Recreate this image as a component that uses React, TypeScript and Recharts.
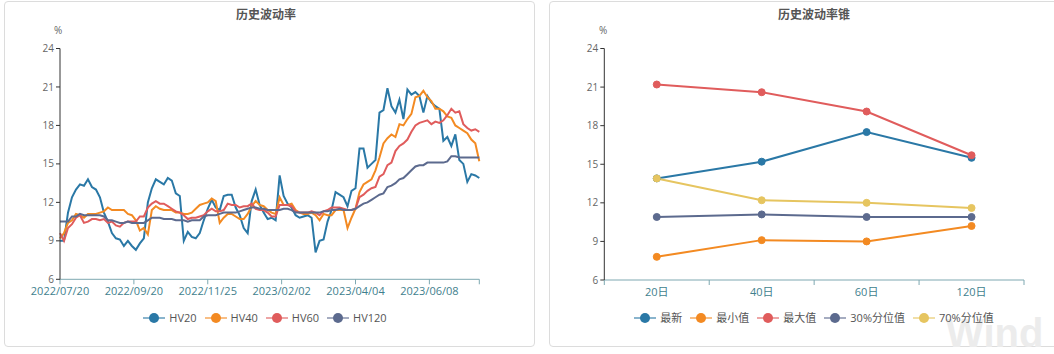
import React from 'react';
import { LineChart, Line, XAxis, YAxis } from 'recharts';

// ---------- Left chart: 历史波动率 ----------
const HV_TICK_POS = [0, 18.5, 37, 55.5, 74, 92.5, 105];
const HV_TICK_LABELS = ['2022/07/20', '2022/09/20', '2022/11/25', '2023/02/02', '2023/04/04', '2023/06/08', ''];
const Y_TICKS = [6, 9, 12, 15, 18, 21, 24];

const HV20 = [9.0,9.0,11.2,12.4,13.0,13.4,13.3,13.8,13.2,13.0, 12.4,11.2,10.5,9.6,9.2,9.1,8.6,9.0,8.6,8.3, 8.8,9.2,12.0,13.1,13.8,13.6,13.4,13.9,13.7,12.7, 12.5,9.0,9.7,9.3,9.2,9.6,10.6,11.5,12.2,11.6, 11.4,12.5,12.6,12.6,11.6,11.0,10.0,9.6,12.1,13.0, 11.8,11.2,10.7,10.8,10.6,14.1,12.5,11.9,11.6,11.0, 10.8,10.9,11.0,10.8,8.1,9.0,9.1,10.5,11.4,12.8, 12.6,12.4,11.7,12.9,13.1,16.2,16.2,14.7,15.0,15.3, 19.0,19.2,20.9,19.5,19.0,20.0,18.5,20.8,20.4,20.6, 20.3,19.0,20.3,19.8,19.5,19.3,16.8,17.1,16.4,17.3, 15.3,15.0,13.6,14.2,14.1,13.9];
const HV40 = [9.2,9.6,10.4,10.6,11.1,11.0,10.8,11.1,11.1,11.1, 11.2,11.3,11.6,11.4,11.4,11.4,11.4,11.1,11.0,10.6, 9.8,10.0,9.5,11.4,11.7,11.5,11.4,11.4,11.4,11.2, 11.2,11.1,11.1,11.2,11.5,11.8,11.9,12.0,12.3,12.1, 10.4,10.8,11.1,11.1,10.9,10.7,10.7,11.1,11.7,12.1, 11.8,11.7,11.4,11.2,11.1,12.4,11.8,11.8,11.9,11.4, 11.2,11.1,11.1,11.2,11.0,10.6,11.1,11.0,11.0,11.4, 11.4,11.4,10.0,10.8,11.5,12.8,13.4,13.6,13.8,14.5, 15.5,16.6,17.0,17.3,17.1,18.1,18.0,18.5,18.9,20.2, 20.3,20.7,20.2,19.9,19.3,19.3,19.1,18.7,18.6,18.0, 17.8,17.6,17.4,16.9,16.6,15.2];
const HV60 = [9.6,9.0,10.0,10.3,10.8,11.0,10.4,10.5,10.7,10.7, 10.6,10.7,10.4,10.5,10.2,10.1,10.4,10.5,10.5,10.5, 10.9,10.9,11.6,11.9,12.1,11.9,11.9,11.7,11.5,11.3, 11.2,11.0,10.7,10.8,10.8,10.9,11.0,11.3,11.5,11.3, 11.3,11.4,11.9,11.8,11.8,11.6,11.7,11.7,11.9,11.5, 11.4,11.4,11.2,10.9,10.9,11.8,11.8,11.8,11.7,11.3, 11.2,11.2,11.2,11.3,11.2,11.0,11.3,11.4,11.6,11.6, 11.6,11.5,11.4,11.4,11.5,12.4,12.6,12.9,13.1,13.2, 14.0,14.2,14.9,15.1,16.0,16.4,16.6,16.9,17.5,18.0, 18.2,18.3,18.4,18.1,18.3,18.2,18.4,18.8,19.3,19.0, 19.1,18.1,17.8,17.6,17.7,17.5];
const HV120 = [10.5,10.5,10.5,10.9,10.9,11.1,11.0,11.0,11.0,11.0, 11.0,10.9,10.6,10.6,10.5,10.4,10.4,10.5,10.4,10.4, 10.4,10.4,10.6,10.8,10.8,10.8,10.7,10.7,10.7,10.6, 10.6,10.6,10.5,10.6,10.6,10.6,10.9,11.0,11.0,11.0, 11.1,11.2,11.2,11.2,11.2,11.3,11.4,11.5,11.6,11.6, 11.5,11.5,11.4,11.4,11.4,11.4,11.5,11.5,11.4,11.2, 11.2,11.2,11.2,11.2,11.2,11.2,11.3,11.3,11.4,11.4, 11.5,11.4,11.4,11.4,11.5,11.7,11.9,12.0,12.2,12.4, 12.6,12.7,13.2,13.3,13.5,13.8,13.9,14.2,14.5,14.8, 14.9,14.9,15.1,15.1,15.1,15.1,15.1,15.2,15.6,15.6, 15.5,15.5,15.5,15.5,15.5,15.5];

// ---------- Right chart: 历史波动率锥 ----------
const CONE_CATEGORIES = ['20日', '40日', '60日', '120日'];
const CONE_LATEST = [13.9, 15.2, 17.5, 15.5];
const CONE_MIN = [7.8, 9.1, 9.0, 10.2];
const CONE_MAX = [21.2, 20.6, 19.1, 15.7];
const CONE_P30 = [10.9, 11.1, 10.9, 10.9];
const CONE_P70 = [13.9, 12.2, 12.0, 11.6];

const C_BLUE = '#2a78a6';
const C_ORANGE = '#f38a22';
const C_RED = '#e05c5c';
const C_SLATE = '#5c6a8e';
const C_YELLOW = '#e6c560';

const FONT = '"Open Sans", "Noto Sans CJK SC", sans-serif';
const AXIS_X_COLOR = '#7ea8b1';
const AXIS_X_TEXT = '#3f7f8e';

const hvData = HV20.map((v, i) => ({ i, hv20: v, hv40: HV40[i], hv60: HV60[i], hv120: HV120[i] }));
const coneData = CONE_CATEGORIES.map((c, i) => ({
  x: i + 0.5,
  latest: CONE_LATEST[i],
  min: CONE_MIN[i],
  max: CONE_MAX[i],
  p30: CONE_P30[i],
  p70: CONE_P70[i],
}));
const CONE_TICKS = [0, 0.5, 1, 1.5, 2, 2.5, 3, 3.5, 4];

const ConeTick = (props: any) => {
  const { x, y, payload } = props;
  const v = payload.value as number;
  if (Number.isInteger(v)) {
    return <line x1={x} x2={x} y1={y - 8} y2={y - 3} stroke={AXIS_X_COLOR} strokeWidth={1} />;
  }
  const label = CONE_CATEGORIES[Math.floor(v)];
  return (
    <text x={x} y={y} dy="0.71em" textAnchor="middle" fill={AXIS_X_TEXT} fontSize={11} fontFamily={FONT}>
      {label}
    </text>
  );
};

const panelStyle = (left: number): React.CSSProperties => ({
  position: 'absolute',
  left,
  top: 1,
  width: 531,
  height: 346,
  border: '1px solid #dcdcdc',
  borderRadius: 4,
  boxSizing: 'border-box',
  background: '#fff',
});

const titleStyle = (center: number): React.CSSProperties => ({
  position: 'absolute',
  left: center - 150,
  width: 300,
  top: 7,
  textAlign: 'center',
  fontSize: 12,
  fontWeight: 'bold',
  color: '#555',
  lineHeight: '16px',
  fontFamily: FONT,
});

const unitStyle = (left: number): React.CSSProperties => ({
  position: 'absolute',
  left,
  top: 23,
  fontSize: 10,
  color: '#666',
  lineHeight: '14px',
  fontFamily: FONT,
});

const LegendIcon = ({ color }: { color: string }) => (
  <svg width={22} height={12} style={{ display: 'block' }}>
    <line x1={0} x2={22} y1={6} y2={6} stroke={color} strokeWidth={2} opacity={0.55} />
    <circle cx={11} cy={6} r={5} fill={color} />
  </svg>
);

const LegendRow = ({ center, items }: { center: number; items: { name: string; color: string }[] }) => (
  <div
    style={{
      position: 'absolute',
      left: center - 300,
      width: 600,
      top: 311,
      display: 'flex',
      justifyContent: 'center',
      alignItems: 'center',
      fontFamily: FONT,
      fontSize: 11,
      color: '#555',
    }}
  >
    {items.map((it) => (
      <div key={it.name} style={{ display: 'flex', alignItems: 'center', margin: '0 4px' }}>
        <LegendIcon color={it.color} />
        <span style={{ marginLeft: 4, lineHeight: '14px' }}>{it.name}</span>
      </div>
    ))}
  </div>
);

export default function App() {
  return (
    <div
      style={{
        position: 'absolute',
        left: 0,
        top: 0,
        width: 1054,
        height: 354,
        overflow: 'hidden',
        background: '#fff',
      }}
    >
      <div style={panelStyle(4)} />
      <div style={panelStyle(549)} />

      <div
        style={{
          position: 'absolute',
          left: 946,
          top: 313,
          fontSize: 40,
          lineHeight: '40px',
          fontWeight: 'bold',
          color: '#ececec',
          fontFamily: '"Liberation Sans", Arial, sans-serif',
          whiteSpace: 'nowrap',
          pointerEvents: 'none',
        }}
      >
        Wind
      </div>

      <div style={titleStyle(266)}>历史波动率</div>
      <div style={titleStyle(814)}>历史波动率锥</div>
      <div style={unitStyle(54)}>%</div>
      <div style={unitStyle(599)}>%</div>

      <div style={{ position: 'absolute', left: 0, top: 0 }}>
        <LineChart
          width={540}
          height={354}
          data={hvData}
          margin={{ top: 48.5, right: 60.7, bottom: 44.7, left: 20 }}
          style={{ fontFamily: FONT }}
        >
          <XAxis
            type="number"
            dataKey="i"
            domain={[0, 105]}
            ticks={HV_TICK_POS}
            interval={0}
            allowDecimals
            height={30}
            tickSize={5}
            tickMargin={3}
            stroke={AXIS_X_COLOR}
            tick={{ fill: AXIS_X_TEXT, fontSize: 11, fontFamily: FONT }}
            tickFormatter={(v: number) => HV_TICK_LABELS[HV_TICK_POS.indexOf(v)] ?? ''}
          />
          <YAxis
            type="number"
            domain={[6, 24]}
            ticks={Y_TICKS}
            interval={0}
            width={40}
            tickSize={4}
            stroke="#333"
            tick={{ fill: '#666', fontSize: 10, fontFamily: FONT }}
          />
          <Line type="linear" dataKey="hv20" stroke={C_BLUE} strokeWidth={2} dot={false} isAnimationActive={false} />
          <Line type="linear" dataKey="hv40" stroke={C_ORANGE} strokeWidth={2} dot={false} isAnimationActive={false} />
          <Line type="linear" dataKey="hv60" stroke={C_RED} strokeWidth={2} dot={false} isAnimationActive={false} />
          <Line type="linear" dataKey="hv120" stroke={C_SLATE} strokeWidth={2} dot={false} isAnimationActive={false} />
        </LineChart>
      </div>

      <div style={{ position: 'absolute', left: 545, top: 0 }}>
        <LineChart
          width={540}
          height={354}
          data={coneData}
          margin={{ top: 48.5, right: 61, bottom: 44, left: 19.3 }}
          style={{ fontFamily: FONT }}
        >
          <XAxis
            type="number"
            dataKey="x"
            domain={[0, 4]}
            ticks={CONE_TICKS}
            interval={0}
            allowDecimals
            height={30}
            tickSize={5}
            tickMargin={3}
            tickLine={false}
            stroke={AXIS_X_COLOR}
            tick={<ConeTick />}
          />
          <YAxis
            type="number"
            domain={[6, 24]}
            ticks={Y_TICKS}
            interval={0}
            width={40}
            tickSize={4}
            stroke="#333"
            tick={{ fill: '#666', fontSize: 10, fontFamily: FONT }}
          />
          <Line type="linear" dataKey="latest" stroke={C_BLUE} strokeWidth={2} dot={{ r: 3.5, fill: C_BLUE, stroke: C_BLUE, strokeWidth: 1 }} isAnimationActive={false} />
          <Line type="linear" dataKey="min" stroke={C_ORANGE} strokeWidth={2} dot={{ r: 3.5, fill: C_ORANGE, stroke: C_ORANGE, strokeWidth: 1 }} isAnimationActive={false} />
          <Line type="linear" dataKey="max" stroke={C_RED} strokeWidth={2} dot={{ r: 3.5, fill: C_RED, stroke: C_RED, strokeWidth: 1 }} isAnimationActive={false} />
          <Line type="linear" dataKey="p30" stroke={C_SLATE} strokeWidth={2} dot={{ r: 3.5, fill: C_SLATE, stroke: C_SLATE, strokeWidth: 1 }} isAnimationActive={false} />
          <Line type="linear" dataKey="p70" stroke={C_YELLOW} strokeWidth={2} dot={{ r: 3.5, fill: C_YELLOW, stroke: C_YELLOW, strokeWidth: 1 }} isAnimationActive={false} />
        </LineChart>
      </div>

      <LegendRow
        center={265}
        items={[
          { name: 'HV20', color: C_BLUE },
          { name: 'HV40', color: C_ORANGE },
          { name: 'HV60', color: C_RED },
          { name: 'HV120', color: C_SLATE },
        ]}
      />
      <LegendRow
        center={814}
        items={[
          { name: '最新', color: C_BLUE },
          { name: '最小值', color: C_ORANGE },
          { name: '最大值', color: C_RED },
          { name: '30%分位值', color: C_SLATE },
          { name: '70%分位值', color: C_YELLOW },
        ]}
      />
    </div>
  );
}
